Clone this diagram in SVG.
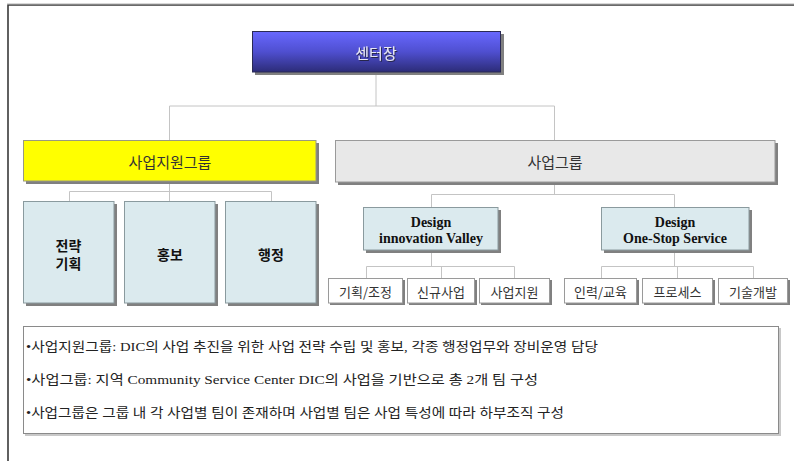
<svg xmlns="http://www.w3.org/2000/svg" width="794" height="461" viewBox="0 0 794 461">
<defs>
<linearGradient id="gBlue" x1="0" y1="0" x2="0" y2="1">
<stop offset="0" stop-color="#6868ff"/>
<stop offset="0.5" stop-color="#4f4fd0"/>
<stop offset="1" stop-color="#2c2c78"/>
</linearGradient>
<filter id="txtShadow" x="-10%" y="-10%" width="130%" height="140%">
<feDropShadow dx="1" dy="1" stdDeviation="0.3" flood-color="#202040" flood-opacity="0.9"/>
</filter>
</defs>
<style>
.conn{stroke:#c4c4c4;stroke-width:1;fill:none}
.shadow{fill:#808080}
.sub{fill:#dbeaee;stroke:#8a9a9e;stroke-width:1}
.leaf{fill:#ffffff;stroke:#9a9a9a;stroke-width:1}
.kr{font-family:"Noto Sans CJK KR","Liberation Sans",sans-serif}
.lbl{font-size:15px;fill:#333;text-anchor:middle;dominant-baseline:central}
.bold{font-size:14px;font-weight:bold;fill:#111;text-anchor:middle;dominant-baseline:central}
.des{font-family:"Liberation Serif","Noto Sans CJK KR",serif;font-size:14px;font-weight:bold;fill:#111;text-anchor:middle;dominant-baseline:central}
.leaftxt{font-size:13px;fill:#333;text-anchor:middle;dominant-baseline:central}
.note{font-family:"Liberation Serif","Noto Sans CJK KR",serif;font-size:13px;fill:#222}
</style>
<rect x="0" y="0" width="794" height="461" fill="#ffffff"/>
<!-- frame -->
<path d="M8 461 V5 H794" fill="none" stroke="#3a3a3a" stroke-width="1.6"/>
<path d="M7 3.8 H794" fill="none" stroke="#c8c8c8" stroke-width="1"/>

<g id="connectors">
<path class="conn" d="M376 72 V106 M169.5 106 H554.5 M169.5 106 V140 M554.5 106 V140"/>
<path class="conn" d="M169.5 181 V191.5 M69.5 191.5 H271.5 M69.5 191.5 V201 M169.5 191.5 V201 M271.5 191.5 V201"/>
<path class="conn" d="M554.5 182 V194.5 M431.5 194.5 H674.5 M431.5 194.5 V207 M674.5 194.5 V207"/>
<path class="conn" d="M431.5 250 V266.5 M366.5 266.5 H514.5 M366.5 266.5 V278 M441.5 266.5 V278 M514.5 266.5 V278"/>
<path class="conn" d="M674.5 250 V266.5 M601.5 266.5 H753.5 M601.5 266.5 V278 M677.5 266.5 V278 M753.5 266.5 V278"/>
</g>

<g id="n-center">
<rect class="shadow" x="255" y="34" width="249" height="41"/>
<rect x="252.5" y="31.5" width="248" height="40.5" fill="url(#gBlue)" stroke="#2a2a55" stroke-width="1"/>
<text class="kr" x="376" y="52" font-size="15" fill="#e8e8f4" text-anchor="middle" dominant-baseline="central" filter="url(#txtShadow)">센터장</text>
</g>

<g id="n-support">
<rect class="shadow" x="26" y="143" width="293" height="41"/>
<rect x="23.5" y="140.5" width="292.5" height="40.5" fill="#ffff00" stroke="#9a9a80" stroke-width="1"/>
<text class="kr lbl" x="170" y="161">사업지원그룹</text>
</g>

<g id="n-business">
<rect class="shadow" x="338" y="143" width="440" height="42"/>
<rect x="335.5" y="140.5" width="439.5" height="41.5" fill="#e8e8e8" stroke="#9a9a9a" stroke-width="1"/>
<text class="kr lbl" x="555" y="161">사업그룹</text>
</g>

<g id="n-strategy">
<rect class="shadow" x="26" y="204" width="91" height="102"/>
<rect class="sub" x="23.5" y="201.5" width="90.5" height="101.5"/>
<text class="kr bold" x="68.5" y="245">전략</text>
<text class="kr bold" x="68.5" y="263">기획</text>
</g>

<g id="n-pr">
<rect class="shadow" x="127" y="204" width="91" height="102"/>
<rect class="sub" x="124.5" y="201.5" width="90.5" height="101.5"/>
<text class="kr bold" x="170" y="254">홍보</text>
</g>

<g id="n-admin">
<rect class="shadow" x="228" y="204" width="91" height="102"/>
<rect class="sub" x="225.5" y="201.5" width="90.5" height="101.5"/>
<text class="kr bold" x="271" y="254">행정</text>
</g>

<g id="n-div">
<rect class="shadow" x="366" y="210" width="135" height="43"/>
<rect class="sub" x="363.5" y="207.5" width="134.5" height="42.5"/>
<text class="des" x="431" y="222">Design</text>
<text class="des" x="431" y="238">innovation Valley</text>
</g>

<g id="n-doss">
<rect class="shadow" x="604" y="210" width="148" height="43"/>
<rect class="sub" x="601.5" y="207.5" width="147.5" height="42.5"/>
<text class="des" x="675" y="222">Design</text>
<text class="des" x="675" y="238">One-Stop Service</text>
</g>

<g id="n-plan">
<rect class="shadow" x="330" y="280" width="75" height="25"/>
<rect class="leaf" x="328.5" y="278.5" width="74" height="24.5"/>
<text class="kr leaftxt" x="365.5" y="291">기획/조정</text>
</g>
<g id="n-new">
<rect class="shadow" x="409" y="280" width="68" height="25"/>
<rect class="leaf" x="407.5" y="278.5" width="67" height="24.5"/>
<text class="kr leaftxt" x="441" y="291">신규사업</text>
</g>
<g id="n-bizsupport">
<rect class="shadow" x="481" y="280" width="71" height="25"/>
<rect class="leaf" x="479.5" y="278.5" width="70" height="24.5"/>
<text class="kr leaftxt" x="514.5" y="291">사업지원</text>
</g>
<g id="n-hr">
<rect class="shadow" x="566" y="280" width="73" height="25"/>
<rect class="leaf" x="564.5" y="278.5" width="72" height="24.5"/>
<text class="kr leaftxt" x="600.5" y="291">인력/교육</text>
</g>
<g id="n-process">
<rect class="shadow" x="644" y="280" width="71" height="25"/>
<rect class="leaf" x="642.5" y="278.5" width="70" height="24.5"/>
<text class="kr leaftxt" x="677.5" y="291">프로세스</text>
</g>
<g id="n-tech">
<rect class="shadow" x="720" y="280" width="70" height="25"/>
<rect class="leaf" x="718.5" y="278.5" width="69" height="24.5"/>
<text class="kr leaftxt" x="753" y="291">기술개발</text>
</g>

<g id="n-notes">
<rect x="25" y="328" width="756" height="108" fill="#c8c8c8"/>
<rect x="23.5" y="326.5" width="755" height="107" fill="#ffffff" stroke="#8a8a8a" stroke-width="1"/>
<text class="note" x="26" y="351" textLength="572" lengthAdjust="spacingAndGlyphs">•사업지원그룹: DIC의 사업 추진을 위한 사업 전략 수립 및 홍보, 각종 행정업무와 장비운영 담당</text>
<text class="note" x="26" y="384" textLength="512" lengthAdjust="spacingAndGlyphs">•사업그룹: 지역 Community Service Center DIC의 사업을 기반으로 총 2개 팀 구성</text>
<text class="note" x="26" y="417" textLength="538" lengthAdjust="spacingAndGlyphs">•사업그룹은 그룹 내 각 사업별 팀이 존재하며 사업별 팀은 사업 특성에 따라 하부조직 구성</text>
</g>
</svg>
